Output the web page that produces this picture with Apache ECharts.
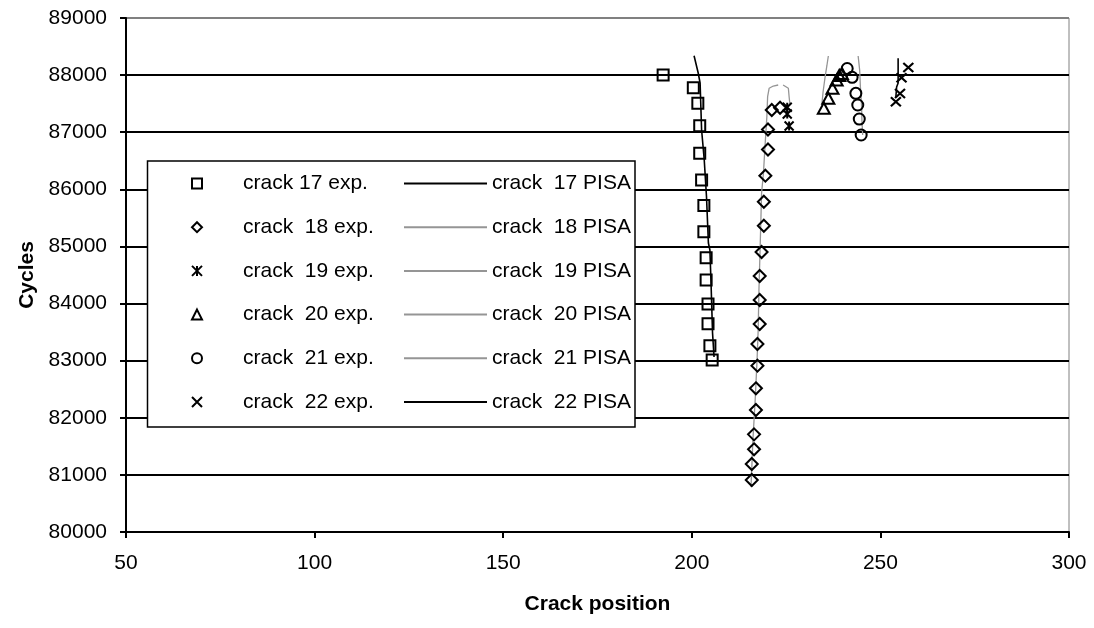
<!DOCTYPE html>
<html>
<head>
<meta charset="utf-8">
<script src="https://cdn.jsdelivr.net/npm/echarts@6/dist/echarts.min.js"></script>
<style>
html,body{margin:0;padding:0;background:#fff;}
#chart{width:1094px;height:628px;}
</style>
</head>
<body>
<div id="chart"></div>
<script>
// ---- data ----
const xTicks = [50, 100, 150, 200, 250, 300];
const yTicks = [80000, 81000, 82000, 83000, 84000, 85000, 86000, 87000, 88000, 89000];

const expNames = ['crack 17 exp.', 'crack  18 exp.', 'crack  19 exp.', 'crack  20 exp.', 'crack  21 exp.', 'crack  22 exp.'];
const pisaNames = ['crack  17 PISA', 'crack  18 PISA', 'crack  19 PISA', 'crack  20 PISA', 'crack  21 PISA', 'crack  22 PISA'];

const crack17Exp = [[192.4,88000],[200.4,87780],[201.6,87506],[202.1,87114],[202.1,86631],[202.6,86163],[203.2,85717],[203.2,85258],[203.8,84803],[203.8,84412],[204.3,83992],[204.3,83647],[204.8,83262],[205.4,83012]];
const crack18Exp = [[223.4,87429],[221.2,87389],[220.2,87048],[220.2,86697],[219.5,86239],[219.1,85783],[219.1,85363],[218.5,84903],[218.0,84482],[218.0,84062],[218.0,83642],[217.4,83292],[217.4,82912],[217.0,82516],[217.0,82136],[216.5,81710],[216.5,81448],[215.9,81190],[215.9,80910]];
const crack19Exp = [[225.3,87436],[225.3,87320],[225.8,87109]];
const crack20Exp = [[235.0,87419],[236.2,87594],[237.3,87769],[238.4,87914],[239.1,87993],[239.8,88028]];
const crack21Exp = [[241.2,88116],[242.5,87962],[243.5,87681],[244.0,87477],[244.4,87231],[244.9,86951]];
const crack22Exp = [[257.4,88133],[255.6,87953],[255.2,87678],[254.1,87534]];

const crack17Pisa = [[200.6,88340],[201.7,88037],[202.2,87862],[202.6,87039],[203.3,86514],[203.9,85866],[204.4,85060],[204.8,84938],[205.1,84360],[205.5,83484],[205.9,83064]];
const crack18Pisa = [[215.7,80788],[216.2,81611],[216.8,82311],[217.3,83011],[217.6,83537],[217.8,84237],[218.1,84938],[218.5,85936],[219.0,86286],[219.4,86746],[219.9,87272],[220.1,87622],[220.5,87769],[221.6,87809],[222.9,87827]];
const crack19Pisa = [[224.2,87827],[225.6,87769],[225.8,87622],[226.0,87494]];
const crack20Pisa = [[236.2,88335],[235.8,88160],[235.3,87949],[234.8,87704],[234.5,87494]];
const crack21Pisa = [[244.1,88335],[244.5,88090],[244.7,87792],[245.0,87477],[245.1,87214],[245.3,86951]];
const crack22Pisa = [[254.7,88294],[254.7,87862],[254.3,87792],[254.1,87617]];

// ---- styles ----
const FONT = "'Liberation Sans', Arial, sans-serif";
const SYM_SQUARE = 'path://M0,0L10,0L10,10L0,10Z';
const SYM_DIAMOND = 'path://M5,0L10,5L5,10L0,5Z';
const SYM_STAR = 'path://M0,0L10,10M10,0L0,10M5,0L5,10';
const SYM_TRI = 'path://M5,0L10,10L0,10Z';
const SYM_X = 'path://M0,0L10,10M10,0L0,10';

function expSeries(name, data, symbol, size) {
  return {
    type: 'scatter', name: name, data: data,
    symbol: symbol, symbolSize: size,
    itemStyle: { color: 'rgba(0,0,0,0)', borderColor: '#000', borderWidth: 2, opacity: 1 },
    emphasis: { disabled: true }, z: 5
  };
}
function pisaSeries(name, data, color, width) {
  return {
    type: 'line', name: name, data: data, showSymbol: false, symbol: 'none',
    lineStyle: { color: color, width: width }, itemStyle: { color: color },
    emphasis: { disabled: true }, z: 4
  };
}

const GRAY = '#959595';
const series = [
  expSeries(expNames[0], crack17Exp, SYM_SQUARE, [11, 11]),
  expSeries(expNames[1], crack18Exp, SYM_DIAMOND, [12, 12]),
  expSeries(expNames[2], crack19Exp, SYM_STAR, [9, 9]),
  expSeries(expNames[3], crack20Exp, SYM_TRI, [12, 11]),
  expSeries(expNames[4], crack21Exp, 'circle', 11),
  expSeries(expNames[5], crack22Exp, SYM_X, [10, 9]),
  pisaSeries(pisaNames[0], crack17Pisa, '#000', 1.6),
  pisaSeries(pisaNames[1], crack18Pisa, GRAY, 1.3),
  pisaSeries(pisaNames[2], crack19Pisa, GRAY, 1.3),
  pisaSeries(pisaNames[3], crack20Pisa, GRAY, 1.3),
  pisaSeries(pisaNames[4], crack21Pisa, GRAY, 1.3),
  pisaSeries(pisaNames[5], crack22Pisa, '#000', 1.6)
];

const splitColors = yTicks.map((v, i) => i === yTicks.length - 1 ? '#808080' : '#000');

const option = {
  animation: false,
  backgroundColor: '#fff',
  textStyle: { fontFamily: FONT },
  grid: { left: 126, right: 25, top: 18, bottom: 96, show: true, borderColor: '#808080', borderWidth: 1, backgroundColor: 'transparent' },
  xAxis: {
    type: 'value', min: xTicks[0], max: xTicks[xTicks.length - 1], interval: 50,
    name: 'Crack position', nameLocation: 'middle', nameGap: 62,
    nameTextStyle: { fontFamily: FONT, fontSize: 21, fontWeight: 'bold', color: '#000' },
    axisLine: { show: true, onZero: false, lineStyle: { color: '#000', width: 2 } },
    axisTick: { show: true, inside: false, length: 6, lineStyle: { color: '#000', width: 2 } },
    axisLabel: { fontFamily: FONT, fontSize: 21, color: '#000', margin: 21, formatter: v => String(v) },
    splitLine: { show: false }
  },
  yAxis: {
    type: 'value', min: yTicks[0], max: yTicks[yTicks.length - 1], interval: 1000,
    name: 'Cycles', nameLocation: 'middle', nameGap: 86,
    nameTextStyle: { fontFamily: FONT, fontSize: 21, fontWeight: 'bold', color: '#000' },
    axisLine: { show: true, onZero: false, lineStyle: { color: '#000', width: 2 } },
    axisTick: { show: true, inside: false, length: 6, lineStyle: { color: '#000', width: 2 } },
    axisLabel: { fontFamily: FONT, fontSize: 21, color: '#000', margin: 19, formatter: v => String(v) },
    splitLine: { show: true, lineStyle: { color: splitColors, width: 2 } }
  },
  graphic: [{
    type: 'rect', z: 3, silent: true,
    shape: { x: 147.5, y: 161, width: 487.5, height: 266 },
    style: { fill: '#fff', stroke: '#000', lineWidth: 1.5 }
  }],
  legend: [{
    data: expNames, orient: 'vertical', left: 191, top: 173, padding: 0,
    itemWidth: 82, itemHeight: 10, itemGap: 22.7, selectedMode: false, z: 6,
    itemStyle: { borderWidth: 2, borderColor: '#000' },
    textStyle: { fontFamily: FONT, fontSize: 21, color: '#000' }
  }, {
    data: pisaNames, orient: 'vertical', left: 403, top: 173, padding: 0,
    itemWidth: 83, itemHeight: 10, itemGap: 22.7, selectedMode: false, z: 6,
    itemStyle: { opacity: 0 },
    textStyle: { fontFamily: FONT, fontSize: 21, color: '#000' }
  }],
  series: series
};

const chart = echarts.init(document.getElementById('chart'), null, { renderer: 'canvas' });
chart.setOption(option);
</script>
</body>
</html>
